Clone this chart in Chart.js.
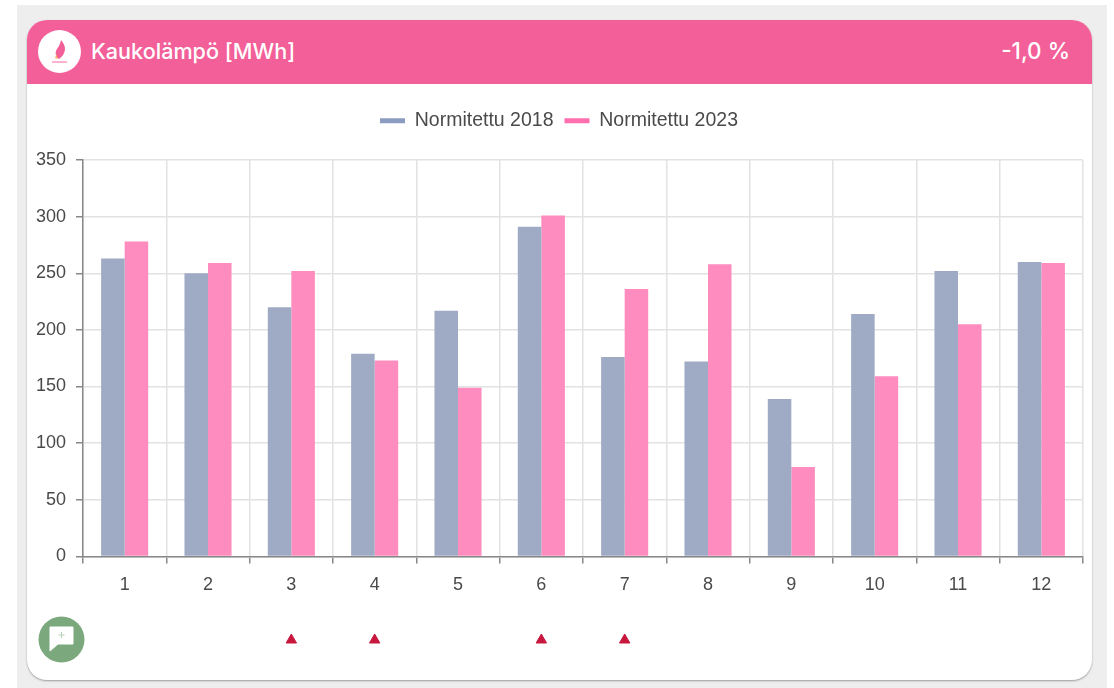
<!DOCTYPE html>
<html lang="fi">
<head>
    <meta charset="UTF-8">
    <title>Kaukolämpö [MWh]</title>
    <script src="https://cdn.jsdelivr.net/npm/chart.js"></script>
    <style>
        html, body {
            margin: 0;
            padding: 0;
            background: #fff;
            width: 1114px;
            height: 688px;
            overflow: hidden;
            font-family: "Liberation Sans", Arial, sans-serif;
        }
        .page {
            position: absolute;
            left: 17px;
            top: 5px;
            width: 1090px;
            height: 683px;
            background: #eeeeee;
        }
        .card {
            position: absolute;
            left: 27px;
            top: 20px;
            width: 1065px;
            height: 660px;
            background: #fff;
            border-radius: 20px;
            box-shadow: 0 1px 2px rgba(0, 0, 0, 0.35);
            overflow: hidden;
        }
        .header {
            position: absolute;
            left: 0;
            top: 0;
            width: 100%;
            height: 64px;
            background: #f25f99;
            color: #fff;
        }
        .header .title {
            position: absolute;
            left: 64px;
            top: 16px;
            font: 500 21.6px/30px Inter, sans-serif;
        }
        .header .change {
            position: absolute;
            right: 22px;
            top: 16px;
            font: 500 22.5px/30px Inter, sans-serif;
        }
        .logo {
            position: absolute;
            left: 11px;
            top: 10px;
        }
        .comment {
            position: absolute;
            left: 11px;
            top: 596px;
        }
        #mainChart {
            position: absolute;
            left: 0;
            top: 64px;
        }
        #flagChart {
            position: absolute;
            left: 0;
            top: 600px;
        }
    </style>
</head>
<body>
    <div class="page"></div>
    <div class="card">
        <div class="header">
            <svg class="logo" width="43" height="43" viewBox="0 0 43 43">
                <circle cx="21.5" cy="21.5" r="21.5" fill="#fff"/>
                <path d="M23 10 C27 15 28 19 26 23 C25 26 23 27 21 29 C18 27 17 24 18 21 C19 18 22 16 23 10 Z" fill="#f25f99"/>
                <path d="M19 23 C18 25 19 27 21 29 L17 28 Z" fill="#f7a96b"/>
                <rect x="14" y="31" width="15" height="2" fill="#f8b4cf"/>
            </svg>
            <div class="title">Kaukolämpö [MWh]</div>
            <div class="change">-1,0 %</div>
        </div>
        <canvas id="mainChart" width="1065" height="530"></canvas>
        <canvas id="flagChart" width="1065" height="40"></canvas>
        <svg class="comment" width="47" height="47" viewBox="0 0 47 47">
            <circle cx="23.5" cy="23.5" r="23" fill="#7ba87c"/>
            <path d="M12 11 H35 V28 H20 L12 35 Z" fill="#fff" stroke="#fff" stroke-width="1" stroke-linejoin="round"/>
            <path d="M23.5 16 V22 M20.5 19 H26.5" stroke="#b5d3b6" stroke-width="1"/>
        </svg>
    </div>

    <script>
        const months = ['1', '2', '3', '4', '5', '6', '7', '8', '9', '10', '11', '12'];
        const normitettu2018 = [263, 250, 220, 179, 217, 291, 176, 172, 139, 214, 252, 260];
        const normitettu2023 = [278, 259, 252, 173, 149, 301, 236, 258, 79, 159, 205, 259];
        const flagged = [null, null, 1, 1, null, 1, 1, null, null, null, null, null];
        const yTicks = [0, 50, 100, 150, 200, 250, 300, 350];
        const legendColors = ['#8c9cc0', '#ff6fb0'];

        const textColor = '#4a4a4a';
        const fontFamily = '"Liberation Sans", Arial, sans-serif';

        // extra room under the legend, and the legend sits a bit right of centre
        const legendGap = {
            id: 'legendGap',
            beforeInit: function (chart) {
                const legend = chart.legend;
                const fit = legend.fit;
                const draw = legend.draw;
                legend.fit = function () {
                    fit.call(this);
                    this.height += 19.5;
                };
                legend.draw = function () {
                    chart.ctx.save();
                    chart.ctx.translate(4, 0);
                    draw.call(this);
                    chart.ctx.restore();
                };
            }
        };

        new Chart(document.getElementById('mainChart'), {
            type: 'bar',
            plugins: [legendGap],
            data: {
                labels: months,
                datasets: [{
                    label: 'Normitettu 2018',
                    data: normitettu2018,
                    backgroundColor: '#9fabc5',
                    categoryPercentage: 0.565,
                    barPercentage: 1
                }, {
                    label: 'Normitettu 2023',
                    data: normitettu2023,
                    backgroundColor: '#ff8cbf',
                    categoryPercentage: 0.565,
                    barPercentage: 1
                }]
            },
            options: {
                responsive: false,
                animation: false,
                layout: { padding: { top: 16, right: 9, bottom: 7, left: 0 } },
                plugins: {
                    legend: {
                        position: 'top',
                        labels: {
                            boxWidth: 25,
                            boxHeight: 5,
                            padding: 11,
                            color: textColor,
                            font: { family: fontFamily, size: 19.5 },
                            generateLabels: function (chart) {
                                const items = Chart.defaults.plugins.legend.labels.generateLabels(chart);
                                items.forEach(function (item, i) {
                                    item.fillStyle = legendColors[i];
                                    item.lineWidth = 0;
                                });
                                return items;
                            }
                        }
                    },
                    tooltip: { enabled: false }
                },
                scales: {
                    x: {
                        border: { color: '#888', width: 1.5 },
                        grid: { color: '#e2e2e2', lineWidth: 1.5, tickColor: '#888', tickLength: 7 },
                        ticks: {
                            color: textColor,
                            padding: 11,
                            maxRotation: 0,
                            font: { family: fontFamily, size: 18 }
                        }
                    },
                    y: {
                        min: 0,
                        max: 350,
                        afterFit: function (axis) { axis.width = 56; },
                        afterBuildTicks: function (axis) {
                            axis.ticks = yTicks.map(function (v) { return { value: v }; });
                        },
                        border: { color: '#888', width: 1.5 },
                        grid: { color: '#e2e2e2', lineWidth: 1.5, tickColor: '#888', tickLength: 7 },
                        ticks: {
                            color: textColor,
                            padding: 10,
                            font: { family: fontFamily, size: 18 }
                        }
                    }
                }
            }
        });

        // triangles under the months, same x layout as the bars
        new Chart(document.getElementById('flagChart'), {
            type: 'line',
            data: {
                labels: months,
                datasets: [{
                    data: flagged,
                    showLine: false,
                    pointStyle: 'triangle',
                    pointRadius: 6,
                    pointBackgroundColor: '#c8173c',
                    pointBorderColor: '#c8173c'
                }]
            },
            options: {
                responsive: false,
                animation: false,
                layout: { padding: { top: 0, right: 9, bottom: 0, left: 56 } },
                plugins: { legend: { display: false }, tooltip: { enabled: false } },
                scales: {
                    x: { display: false, offset: true },
                    y: { display: false, min: 0, max: 2 }
                }
            }
        });
    </script>
</body>
</html>
